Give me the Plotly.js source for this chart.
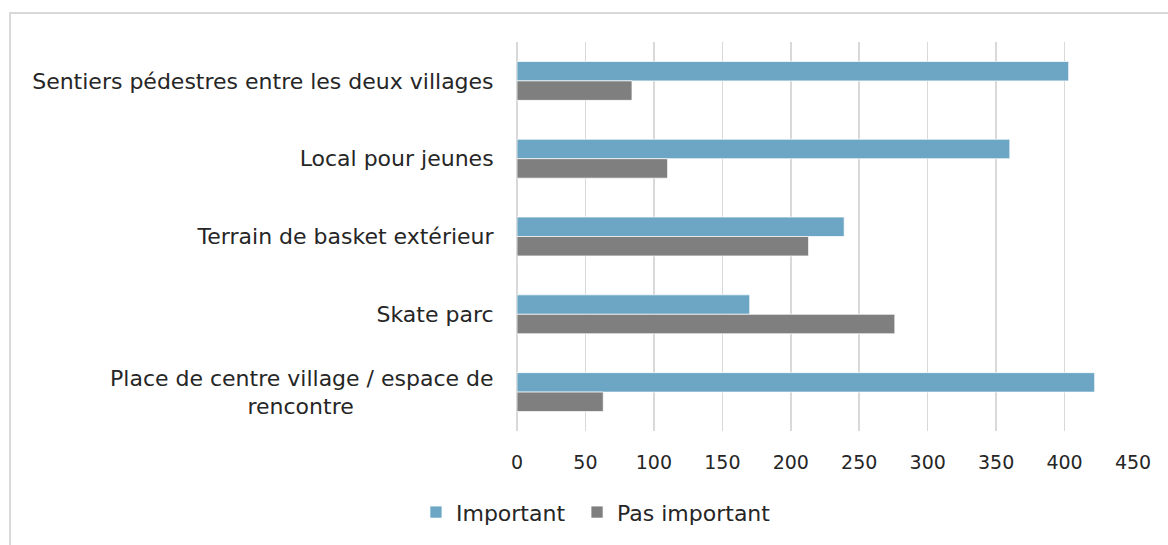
<!DOCTYPE html>
<html>
<head>
<meta charset="utf-8">
<script src="https://cdn.plot.ly/plotly-3.0.1.min.js"></script>
<style>
  html, body { margin: 0; padding: 0; background: #ffffff; overflow: hidden; }
  #chart { width: 1168px; height: 545px; }
  #frame { position: absolute; left: 9px; top: 12px; width: 1180px; height: 560px;
           border: 2px solid #D9D9D9; pointer-events: none; box-sizing: border-box; }
</style>
</head>
<body>
<div id="chart"></div>
<div id="frame"></div>
<script>
// Categories, top to bottom as shown
const categories = [
  "Sentiers pédestres entre les deux villages",
  "Local pour jeunes",
  "Terrain de basket extérieur",
  "Skate parc",
  "Place de centre village / espace de<br>rencontre" + "\u00a0".repeat(20)
];
const important = [403, 360, 239, 170, 422];
const pasImportant = [84, 110, 213, 276, 63];
const seriesNames = ["Important", "Pas important"];
const xTickVals = [0, 50, 100, 150, 200, 250, 300, 350, 400, 450];

const FONT = "DejaVu Sans, sans-serif";
const TXT = "#262626";

const traces = [
  {
    type: "bar", orientation: "h", name: seriesNames[0] + "\u00a0",
    y: categories, x: important,
    marker: { color: "#6CA6C4", line: { color: "rgba(255,255,255,0.7)", width: 1 } },
    hoverinfo: "x+name"
  },
  {
    type: "bar", orientation: "h", name: seriesNames[1],
    y: categories, x: pasImportant,
    marker: { color: "#7F7F7F", line: { color: "rgba(255,255,255,0.7)", width: 1 } },
    hoverinfo: "x+name"
  }
];

const layout = {
  width: 1168, height: 545,
  margin: { l: 517, r: 35, t: 42, b: 114, pad: 0 },
  paper_bgcolor: "rgba(0,0,0,0)",
  plot_bgcolor: "rgba(0,0,0,0)",
  font: { family: FONT, size: 19, color: TXT },
  barmode: "group",
  bargap: 0.5,
  bargroupgap: 0,
  showlegend: true,
  legend: {
    orientation: "h",
    x: -0.164, xanchor: "left",
    y: -0.155, yanchor: "top",
    font: { family: FONT, size: 22, color: TXT },
    itemwidth: 30,
    traceorder: "normal"
  },
  xaxis: {
    range: [0, 450],
    tickvals: xTickVals,
    ticktext: xTickVals.map(String),
    showgrid: true, gridcolor: "#D9D9D9", gridwidth: 1.5,
    zeroline: true, zerolinecolor: "#D9D9D9", zerolinewidth: 1.5,
    showline: false,
    ticks: "outside", ticklen: 14, tickcolor: "rgba(0,0,0,0)",
    tickfont: { family: FONT, size: 19, color: TXT },
    fixedrange: true
  },
  yaxis: {
    type: "category",
    autorange: "reversed",
    showgrid: false, zeroline: false, showline: false,
    ticks: "outside", ticklen: 18, tickcolor: "rgba(0,0,0,0)",
    tickfont: { family: FONT, size: 22, color: TXT },
    fixedrange: true
  }
};

Plotly.newPlot("chart", traces, layout, { displayModeBar: false, staticPlot: true });
</script>
</body>
</html>
